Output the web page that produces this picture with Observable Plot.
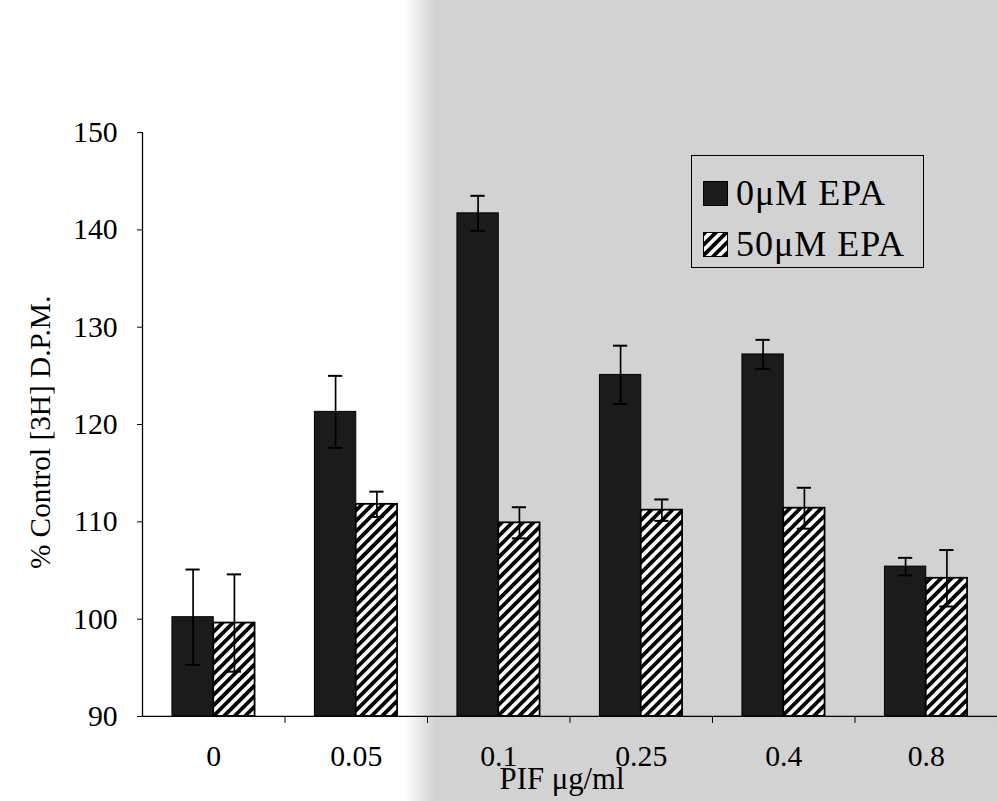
<!DOCTYPE html>
<html>
<head>
<meta charset="utf-8">
<script src="https://cdn.jsdelivr.net/npm/d3@7"></script>
<script src="https://cdn.jsdelivr.net/npm/@observablehq/plot@0.6"></script>
<style>
  html, body { margin: 0; padding: 0; overflow: hidden; background: #fff; }
  #wrap {
    position: relative; width: 997px; height: 801px; overflow: hidden;
    background: linear-gradient(to right, #ffffff 0px, #ffffff 405px, #d2d2d2 435px, #d2d2d2 100%);
  }
  #chart { position: absolute; left: 0; top: 0; }
  #legend {
    position: absolute; left: 691px; top: 155px; width: 233px; height: 113px;
    border: 1.5px solid #000; box-sizing: border-box;
    font-family: "Liberation Serif", "Times New Roman", serif; font-size: 36px; letter-spacing: 1px; color: #000;
  }
  #legend .item { position: absolute; left: 11px; display: flex; align-items: center; gap: 8px; white-space: nowrap; line-height: 1; }
</style>
</head>
<body>
<div id="wrap"><div id="chart"></div><div id="legend"></div></div>
<script>
// PIF dose groups (µg/ml)
const doses = ["0", "0.05", "0.1", "0.25", "0.4", "0.8"];
const seriesNames = ["0μM EPA", "50μM EPA"];
// % of control [3H] D.P.M., mean and error per dose
const epa0 = [100.2, 121.3, 141.7, 125.1, 127.2, 105.4];
const epa0Err = [4.9, 3.7, 1.8, 3.0, 1.5, 0.9];
const epa50 = [99.6, 111.8, 109.9, 111.2, 111.4, 104.2];
const epa50Err = [5.0, 1.3, 1.6, 1.1, 2.1, 2.9];
const yTicks = [90, 100, 110, 120, 130, 140, 150];
const yLabel = "% Control [3H] D.P.M.";
const xLabel = "PIF μg/ml";

// Each dose occupies one unit on x; the two bars sit side by side around its centre.
const barW = 0.29;
const capHalf = 0.05;
const rows = doses.flatMap((dose, i) => [
  {dose, i, series: seriesNames[0], value: epa0[i], err: epa0Err[i], x1: i + 0.5 - barW, x2: i + 0.5},
  {dose, i, series: seriesNames[1], value: epa50[i], err: epa50Err[i], x1: i + 0.5, x2: i + 0.5 + barW}
]).map(r => ({...r, cx: (r.x1 + r.x2) / 2}));
const solid = rows.filter(r => r.series === seriesNames[0]);
const hatched = rows.filter(r => r.series === seriesNames[1]);
const caps = rows.flatMap(r => [{...r, cy: r.value + r.err}, {...r, cy: r.value - r.err}]);
const boundaries = d3.range(0, doses.length + 1);
const centers = doses.map((d, i) => i + 0.5);

const svg = Plot.plot({
  width: 1004,
  height: 801,
  marginLeft: 143,
  marginRight: 0,
  marginTop: 133,
  marginBottom: 80,
  style: {fontFamily: "'Liberation Serif', 'Times New Roman', serif", color: "#000", background: "transparent", overflow: "visible"},
  x: {domain: [0, doses.length]},
  y: {domain: [90, 150]},
  marks: [
    Plot.rectY(solid, {x1: "x1", x2: "x2", y1: 90, y2: "value", fill: "#1b1b1b", stroke: "#000", strokeWidth: 1}),
    Plot.rectY(hatched, {x1: "x1", x2: "x2", y1: 90, y2: "value", fill: "url(#hatch)", stroke: "#000", strokeWidth: 1.8}),
    Plot.ruleX(rows, {x: "cx", y1: d => d.value - d.err, y2: d => d.value + d.err, stroke: "#000", strokeWidth: 1.7}),
    Plot.ruleY(caps, {y: "cy", x1: d => d.cx - capHalf, x2: d => d.cx + capHalf, stroke: "#000", strokeWidth: 2}),
    Plot.ruleY([90], {stroke: "#000", strokeWidth: 1.3}),
    Plot.ruleX([0], {stroke: "#000", strokeWidth: 1.3}),
    Plot.axisY({ticks: yTicks, tickSize: 5, tickPadding: 20, fontSize: 30, label: null, stroke: "#000"}),
    Plot.axisX({ticks: boundaries.slice(1), tickSize: 7, tickFormat: () => "", label: null, stroke: "#000"}),
    Plot.axisX({ticks: centers, tickSize: 0, tickPadding: 29, fontSize: 30, tickFormat: v => doses[Math.floor(v)], label: null}),
    Plot.text([yLabel], {frameAnchor: "left", rotate: -90, dx: -103, dy: 8, textAnchor: "middle", lineAnchor: "middle", fontSize: 29.5, fill: "#000"}),
    Plot.text([xLabel], {frameAnchor: "bottom", dx: -8, dy: 63, textAnchor: "middle", lineAnchor: "middle", fontSize: 31, fill: "#000"})
  ]
});

// Diagonal hatch used by the 50μM EPA bars and their legend swatch
const defs = d3.select(svg).insert("defs", ":first-child");
const pat = defs.append("pattern")
  .attr("id", "hatch")
  .attr("patternUnits", "userSpaceOnUse")
  .attr("width", 7.5).attr("height", 7.5)
  .attr("patternTransform", "rotate(45)");
pat.append("rect").attr("width", 7.5).attr("height", 7.5).attr("fill", "#fff");
pat.append("rect").attr("width", 3.8).attr("height", 7.5).attr("fill", "#000");

document.getElementById("chart").appendChild(svg);

// Legend
const legend = d3.select("#legend");
seriesNames.forEach((name, k) => {
  const item = legend.append("div").attr("class", "item").style("top", (k === 0 ? 19 : 70) + "px");
  const sw = item.append("svg").attr("width", 25).attr("height", 25);
  sw.append("rect").attr("x", 0.5).attr("y", 0.5).attr("width", 24).attr("height", 24)
    .attr("fill", k === 0 ? "#1b1b1b" : "url(#hatch)").attr("stroke", "#000").attr("stroke-width", 1);
  item.append("span").text(name);
});
</script>
</body>
</html>
